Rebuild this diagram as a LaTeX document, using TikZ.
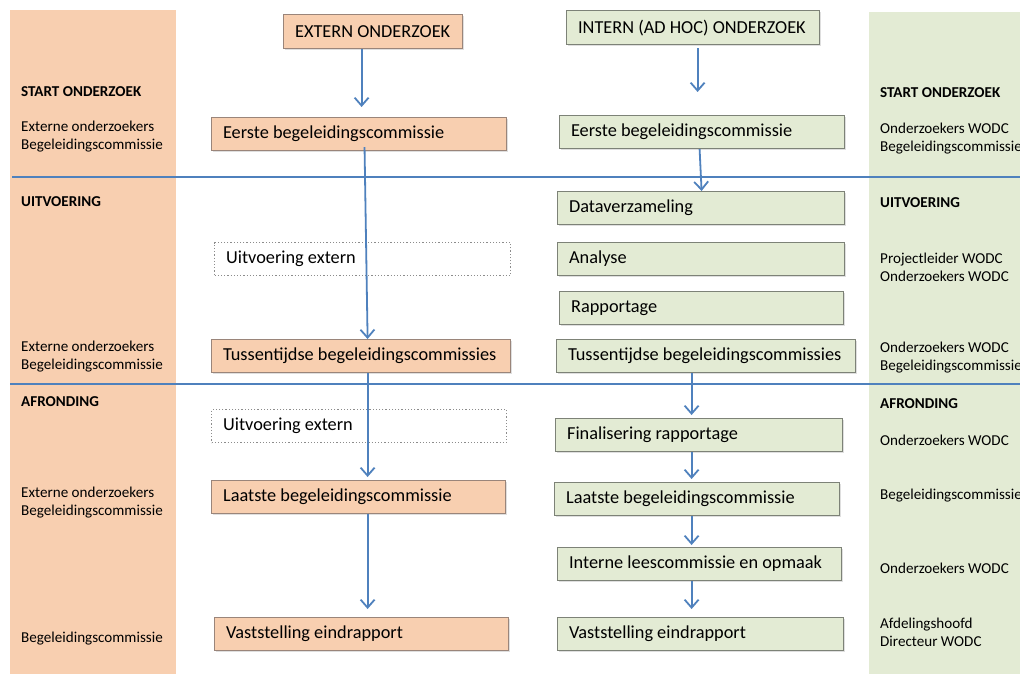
\documentclass[tikz,border=0pt]{standalone}
\usepackage{fontspec}
\setmainfont{Carlito}
\usetikzlibrary{arrows.meta,shadows}
\definecolor{peach}{HTML}{F8CFB0}
\definecolor{sage}{HTML}{E3EBD4}
\definecolor{flowblue}{HTML}{4F81BD}
\definecolor{peachline}{HTML}{9A857A}
\definecolor{sageline}{HTML}{7D8277}
\tikzset{
  side/.style={anchor=west, inner sep=0pt, align=flush left, font=\fontsize{15.1}{18}\selectfont},
  phase/.style={side, font=\fontsize{15.1}{18}\selectfont\bfseries},
  box/.style={anchor=north west, draw, line width=1.2pt, minimum height=33, inner xsep=11.5, inner ysep=2,
    align=flush left, font=\fontsize{18.3}{21}\selectfont, minimum width=#1, text width=#1-23},
  shade box/.style={drop shadow={shadow xshift=1.5pt, shadow yshift=-1.5pt, opacity=0.25}},
  ebox/.style={box=#1, fill=peach, draw=peachline, shade box},
  ibox/.style={box=#1, fill=sage, draw=sageline, shade box},
  obox/.style={box=#1, fill=white, draw=black!45, dotted},
  flow/.style={draw=flowblue, line width=1.8pt, -{Straight Barb[length=8pt,width=14pt]}},
}
\begin{document}
\begin{tikzpicture}[x=1pt, y=-1pt]
      \useasboundingbox (0,0) rectangle (1020,674);
      \fill[peach] (10,10) rectangle (176,674);
      \fill[sage] (869,12) rectangle (1020,674);
      \begin{scope}[draw=flowblue, line width=1.8pt]
        \draw (12,177) -- (1020,177);
        \draw (10,384) -- (1020,384);
      \end{scope}
      \node[phase] (l0) at (21,92) {START ONDERZOEK};
      \node[side] (l1) at (21,137) {Externe onderzoekers\\Begeleidingscommissie};
      \node[phase] (l2) at (21,202) {UITVOERING};
      \node[side] (l3) at (21,357) {Externe onderzoekers\\Begeleidingscommissie};
      \node[phase] (l4) at (21,402) {AFRONDING};
      \node[side] (l5) at (21,503) {Externe onderzoekers\\Begeleidingscommissie};
      \node[side] (l6) at (21,639) {Begeleidingscommissie};
      \node[phase] (r0) at (880,93) {START ONDERZOEK};
      \node[side] (r1) at (880,139) {Onderzoekers WODC\\Begeleidingscommissie};
      \node[phase] (r2) at (880,203) {UITVOERING};
      \node[side] (r3) at (880,267) {Projectleider WODC\\Onderzoekers WODC};
      \node[side] (r4) at (880,358) {Onderzoekers WODC\\Begeleidingscommissie};
      \node[phase] (r5) at (880,404) {AFRONDING};
      \node[side] (r6) at (880,440) {Onderzoekers WODC};
      \node[side] (r7) at (880,496) {Begeleidingscommissie};
      \node[side] (r8) at (880,568) {Onderzoekers WODC};
      \node[side] (r9) at (880,632) {Afdelingshoofd\\Directeur WODC};
      \node[ebox=179, minimum height=34] (e0) at (283,14) {EXTERN ONDERZOEK};
      \node[ebox=295] (e1) at (211,117) {Eerste begeleidingscommissie};
      \node[obox=296] (e2) at (214,242) {Uitvoering extern};
      \node[ebox=299] (e3) at (211,339) {Tussentijdse begeleidingscommissies};
      \node[obox=295] (e4) at (211,409) {Uitvoering extern};
      \node[ebox=294] (e5) at (211,480) {Laatste begeleidingscommissie};
      \node[ebox=294] (e6) at (214,617) {Vaststelling eindrapport};
      \node[ibox=253, minimum height=34] (i0) at (566,10) {INTERN (AD HOC) ONDERZOEK};
      \node[ibox=285] (i1) at (559,115) {Eerste begeleidingscommissie};
      \node[ibox=287] (i2) at (557,191) {Dataverzameling};
      \node[ibox=287] (i3) at (557,242) {Analyse};
      \node[ibox=284] (i4) at (559,291) {Rapportage};
      \node[ibox=299] (i5) at (556,339) {Tussentijdse begeleidingscommissies};
      \node[ibox=287] (i6) at (555,418) {Finalisering rapportage};
      \node[ibox=285] (i7) at (554,482) {Laatste begeleidingscommissie};
      \node[ibox=284] (i8) at (557,547) {Interne leescommissie en opmaak};
      \node[ibox=286] (i9) at (557,617) {Vaststelling eindrapport};
      \begin{scope}[flow]
        \draw[shorten >=10pt] ([xshift=-11.5]e0.south) to ([xshift=2.5]e1.north);
        \draw[shorten <=-4pt] ([xshift=5.5]e1.south) to ([xshift=6.5]e3.north);
        \draw[shorten >=3pt] ([xshift=6.5]e3.south) to ([xshift=9]e5.north);
        \draw[shorten >=8pt] ([xshift=9]e5.south) to ([xshift=6]e6.north);
        \draw[shorten <=3pt, shorten >=23pt] ([xshift=4.5]i0.south) to ([xshift=-4.5]i1.north);
        \draw ([xshift=-2.5]i1.south) to ([xshift=0.5]i2.north);
        \draw[shorten >=3pt] ([xshift=-14.5]i5.south) to ([xshift=-7.5]i6.north);
        \draw[shorten >=3pt] ([xshift=-7.5]i6.south) to ([xshift=-5.5]i7.north);
        \draw[shorten >=2pt] ([xshift=-5.5]i7.south) to ([xshift=-8]i8.north);
        \draw[shorten >=8pt] ([xshift=-8]i8.south) to ([xshift=-9]i9.north);
      \end{scope}
    \end{tikzpicture}
\end{document}
